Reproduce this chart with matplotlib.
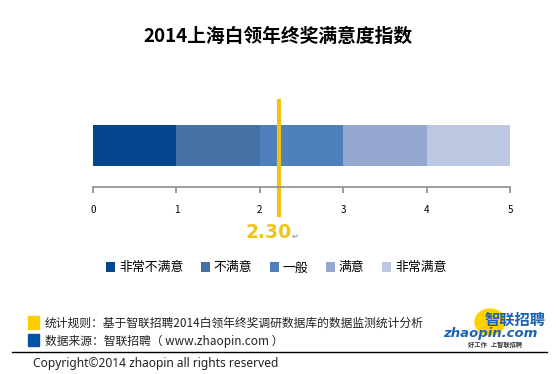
import matplotlib
matplotlib.use("Agg")
import matplotlib.pyplot as plt
from matplotlib.patches import Rectangle, Ellipse
from matplotlib.lines import Line2D

plt.rcParams['font.family'] = ['Noto Sans CJK SC', 'DejaVu Sans']

# data
levels = ['非常不满意', '不满意', '一般', '满意', '非常满意']
widths = [1, 1, 1, 1, 1]
colors = ['#03458F', '#4472A6', '#4E80BC', '#95A9D0', '#BCC8E2']
ticks = [0, 1, 2, 3, 4, 5]
marker_pos = 2.23
index_label = '2.30'
title = '2014上海白领年终奖满意度指数'
note1 = '统计规则：基于智联招聘2014白领年终奖调研数据库的数据监测统计分析'
note2 = '数据来源：智联招聘（ www.zhaopin.com ）'
copyright_txt = 'Copyright©2014 zhaopin all rights reserved'

W, H = 556, 374
fig = plt.figure(figsize=(W / 100, H / 100), dpi=100)
ax = fig.add_axes([93 / W, 1 - 187 / H, 417 / W, 92 / H])

left = 0
for lab, w, c in zip(levels, widths, colors):
    ax.barh(0.451, w, left=left, height=0.446, color=c, label=lab)
    left += w

ax.set_xlim(0, 5)
ax.set_ylim(0, 1)
ax.set_xticks(ticks)
ax.set_yticks([])
for s in ['top', 'right', 'left']:
    ax.spines[s].set_visible(False)
ax.spines['bottom'].set_color('#8c8c8c')
ax.spines['bottom'].set_linewidth(1.2)
ax.tick_params(axis='x', length=4, width=1.2, color='#8c8c8c', pad=9, labelsize=7)

ax.axvline(marker_pos, ymin=-0.304, ymax=0.935, color='#F2C314', lw=3, clip_on=False)
ax.text(2.10, -0.5, index_label, ha='center', va='center', fontsize=13.5,
        fontweight='bold', color='#F2C314', clip_on=False, family=['DejaVu Sans'])
ax.text(2.38, -0.53, '↵', ha='left', va='center', fontsize=6,
        color='#888888', clip_on=False, family=['DejaVu Sans'])

fig.text(0.5, 1 - 36 / H, title, ha='center', va='center', fontsize=13.5, fontweight='bold')

fig.legend(loc='center', bbox_to_anchor=(0.497, 1 - 268 / H), ncol=5, frameon=False,
           fontsize=9.3, handlelength=0.7, handleheight=0.7, handletextpad=0.3,
           columnspacing=1.35, borderaxespad=0)

# footer
fig.patches.append(Rectangle((28 / W, 1 - 329 / H), 11 / W, 13 / H, color='#FFCC00',
                             transform=fig.transFigure, figure=fig))
fig.patches.append(Rectangle((28 / W, 1 - 346 / H), 11 / W, 12 / H, color='#0054A6',
                             transform=fig.transFigure, figure=fig))
fig.text(45 / W, 1 - 323 / H, note1, ha='left', va='center', fontsize=8.5, color='#222222')
fig.text(45 / W, 1 - 341 / H, note2, ha='left', va='center', fontsize=8.5, color='#222222')
fig.lines.append(Line2D([12 / W, 547 / W], [1 - 352 / H, 1 - 352 / H], color='black',
                        lw=1, transform=fig.transFigure, figure=fig))
fig.text(33 / W, 1 - 363 / H, copyright_txt, ha='left', va='center', fontsize=8.6,
         color='#222222', family=['Noto Sans', 'DejaVu Sans'])

# logo
fig.patches.append(Ellipse((490 / W, 1 - 322 / H), 30 / W, 26 / H, color='#FFD200',
                           transform=fig.transFigure, figure=fig))
fig.text(546 / W, 1 - 320 / H, '智联招聘', ha='right', va='center', fontsize=11,
         fontweight='bold', style='italic', color='#1A63B0')
fig.text(443 / W, 1 - 333 / H, 'zhaopin.com', ha='left', va='center', fontsize=9.5,
         fontweight='bold', style='italic', color='#1A63B0', family=['DejaVu Sans'])
fig.text(495 / W, 1 - 344 / H, '好工作   上智联招聘', ha='center', va='center',
         fontsize=4.5, fontweight='bold', color='#333333')

fig.savefig('out.png', dpi=100)
